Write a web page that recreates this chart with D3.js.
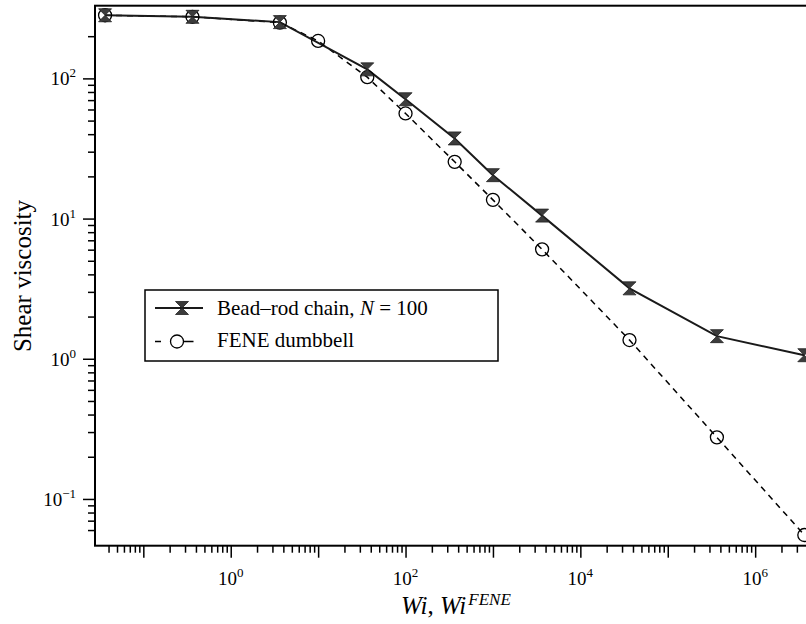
<!DOCTYPE html>
<html>
<head>
<meta charset="utf-8">
<script src="https://cdn.jsdelivr.net/npm/d3@7"></script>
<style>
  body { margin: 0; background: #fff; }
  svg { display: block; font-family: "Liberation Serif", "Times New Roman", serif; }
</style>
</head>
<body>
<script>
// values
let wi = [0.0365, 0.365, 3.65, 10, 36.5, 100, 365, 1000, 3650, 36500, 365000, 3650000];
let beadRod = [282, 275, 252, null, 116, 71, 37.3, 20.4, 10.5, 3.18, 1.45, 1.06];
let fene = [282, 275, 250, 185, 102, 56.2, 25.4, 13.6, 6.03, 1.36, 0.275, 0.0553];

let xMajor = [1e-1, 1e0, 1e1, 1e2, 1e3, 1e4, 1e5, 1e6];
let xLabelled = [0, 2, 4, 6];          // exponents that get a label
let yMajor = [1e-1, 1e0, 1e1, 1e2];
let yLabelled = [-1, 0, 1, 2];

let legendNames = ["Bead\u2013rod chain, ", "FENE dumbbell"];

let W = 806, H = 624;
let plotLeft = 95, plotTop = 5.7, plotW = 717, plotH = 540;

let svg = d3.select("body").append("svg")
    .attr("width", W)
    .attr("height", H);

let xScale = d3.scaleLog()
    .domain([0.028, 4.47e6])
    .range([plotLeft, plotLeft + plotW]);

let yScale = d3.scaleLog()
    .domain([0.0464, 330])
    .range([plotTop + plotH, plotTop]);

// minor ticks: every 2..9 multiple, skip the ones sitting on the frame
function minorTicks(scale, majors){
  let r = scale.range();
  let lo = Math.min(r[0], r[1]), hi = Math.max(r[0], r[1]);
  return scale.ticks().filter(function(t){
    let p = scale(t);
    let isMajor = majors.some(m => Math.abs(m - t) / m < 1e-6);
    return !isMajor && p > lo + 6 && p < hi - 6;
  });
}

// x axis
let xAxisMinor = d3.axisBottom(xScale)
    .tickValues(minorTicks(xScale, xMajor))
    .tickSize(7).tickSizeOuter(0).tickFormat("");
let xAxisMajor = d3.axisBottom(xScale)
    .tickValues(xMajor)
    .tickSize(12).tickSizeOuter(0).tickFormat("");

svg.append("g").attr("class", "xminor")
    .attr("transform", "translate(0," + (plotTop + plotH) + ")")
    .call(xAxisMinor);
svg.append("g").attr("class", "xmajor")
    .attr("transform", "translate(0," + (plotTop + plotH) + ")")
    .call(xAxisMajor);

// y axis
let yAxisMinor = d3.axisLeft(yScale)
    .tickValues(minorTicks(yScale, yMajor))
    .tickSize(7).tickSizeOuter(0).tickFormat("");
let yAxisMajor = d3.axisLeft(yScale)
    .tickValues(yMajor)
    .tickSize(12).tickSizeOuter(0).tickFormat("");

svg.append("g").attr("class", "yminor")
    .attr("transform", "translate(" + plotLeft + ",0)")
    .call(yAxisMinor);
svg.append("g").attr("class", "ymajor")
    .attr("transform", "translate(" + plotLeft + ",0)")
    .call(yAxisMajor);

svg.selectAll(".tick line").attr("stroke", "#000").attr("stroke-width", 1.5);
svg.selectAll(".domain").remove();

// frame: left, bottom, top (right side runs off the page)
svg.append("rect")
    .attr("x", plotLeft).attr("y", plotTop)
    .attr("width", plotW).attr("height", plotH)
    .attr("fill", "none")
    .attr("stroke", "#000")
    .attr("stroke-width", 2);

// tick labels with superscripts
function powLabel(g, e){
  g.append("tspan").text("10");
  g.append("tspan")
    .attr("dy", -8)
    .attr("font-size", 13)
    .text(e < 0 ? "\u2212" + (-e) : e);
}

xLabelled.forEach(function(e){
  let t = svg.append("text")
      .attr("x", xScale(Math.pow(10, e)))
      .attr("y", 585)
      .attr("text-anchor", "middle")
      .attr("font-size", 19);
  powLabel(t, e);
});

yLabelled.forEach(function(e){
  let t = svg.append("text")
      .attr("x", 76)
      .attr("y", yScale(Math.pow(10, e)) + 7)
      .attr("text-anchor", "end")
      .attr("font-size", 19);
  powLabel(t, e);
});

// axis titles
let xt = svg.append("text")
    .attr("x", 401).attr("y", 614)
    .attr("font-size", 25)
    .attr("font-style", "italic");
xt.append("tspan").text("Wi");
xt.append("tspan").attr("font-style", "normal").text(", ");
xt.append("tspan").text("Wi");
xt.append("tspan").attr("font-size", 17).attr("dx", 2).attr("dy", -9).text("FENE");

svg.append("text")
    .attr("transform", "translate(31,276) rotate(-90)")
    .attr("text-anchor", "middle")
    .attr("font-size", 25)
    .text("Shear viscosity");

// data
let beadPts = wi.map((w, i) => ({x: w, y: beadRod[i]})).filter(d => d.y != null);
let fenePts = wi.map((w, i) => ({x: w, y: fene[i]}));

let line = d3.line()
    .x(d => xScale(d.x))
    .y(d => yScale(d.y));

svg.append("path")
    .datum(fenePts)
    .attr("fill", "none")
    .attr("stroke", "#000")
    .attr("stroke-width", 1.5)
    .attr("stroke-dasharray", "6,5")
    .attr("d", line);

svg.append("path")
    .datum(beadPts)
    .attr("fill", "none")
    .attr("stroke", "#1a1a1a")
    .attr("stroke-width", 2)
    .attr("d", line);

// hourglass marker for the bead-rod chain
let hourglass = "M-6.5,-6.5L6.5,-6.5L0,0L6.5,6.5L-6.5,6.5L0,0Z";

svg.append("g").selectAll("circle")
    .data(fenePts)
    .enter()
    .append("circle")
      .attr("cx", d => xScale(d.x))
      .attr("cy", d => yScale(d.y))
      .attr("r", 6.5)
      .attr("fill", "none")
      .attr("stroke", "#000")
      .attr("stroke-width", 1.3);

svg.append("g").selectAll("path")
    .data(beadPts)
    .enter()
    .append("path")
      .attr("d", hourglass)
      .attr("transform", d => "translate(" + xScale(d.x) + "," + yScale(d.y) + ")")
      .attr("fill", "#3c3c3c")
      .attr("stroke", "#222")
      .attr("stroke-width", 0.8);

// legend
let legend = svg.append("g").attr("class", "legend");
legend.append("rect")
    .attr("x", 145).attr("y", 290)
    .attr("width", 353).attr("height", 71)
    .attr("fill", "#fff")
    .attr("stroke", "#000")
    .attr("stroke-width", 1.5);

legend.append("line")
    .attr("x1", 155).attr("x2", 203)
    .attr("y1", 308).attr("y2", 308)
    .attr("stroke", "#1a1a1a").attr("stroke-width", 2);
legend.append("path")
    .attr("d", hourglass)
    .attr("transform", "translate(182,308)")
    .attr("fill", "#3c3c3c").attr("stroke", "#222").attr("stroke-width", 0.8);

let l1 = legend.append("text")
    .attr("x", 217).attr("y", 315)
    .attr("font-size", 21);
l1.append("tspan").text(legendNames[0]);
l1.append("tspan").attr("font-style", "italic").text("N");
l1.append("tspan").text(" = 100");

legend.append("line")
    .attr("x1", 155).attr("x2", 202)
    .attr("y1", 341.5).attr("y2", 341.5)
    .attr("stroke", "#000").attr("stroke-width", 1.5)
    .attr("stroke-dasharray", "6,12.5,20,12.5,6");
legend.append("circle")
    .attr("cx", 177).attr("cy", 341.5).attr("r", 6.5)
    .attr("fill", "#fff").attr("stroke", "#000").attr("stroke-width", 1.3);

legend.append("text")
    .attr("x", 217).attr("y", 347)
    .attr("font-size", 21)
    .text(legendNames[1]);
</script>
</body>
</html>
